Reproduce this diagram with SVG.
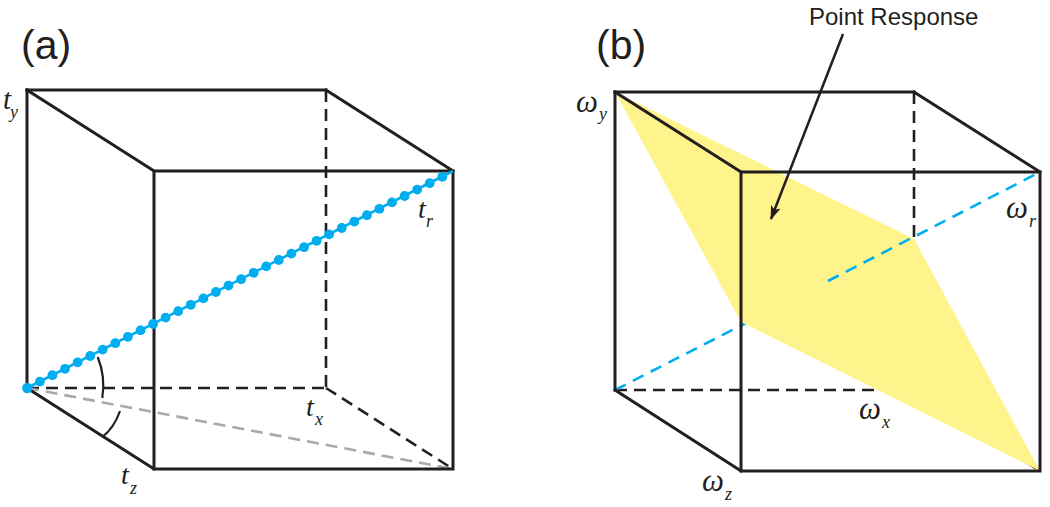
<svg xmlns="http://www.w3.org/2000/svg" width="1050" height="507" viewBox="0 0 1050 507">
<defs>
<style>
.e{stroke:#231F20;stroke-width:3;fill:none;stroke-linecap:square}
.d{stroke:#231F20;stroke-width:2.6;fill:none;stroke-dasharray:12 7}
.g{stroke:#A7A9AC;stroke-width:2.6;fill:none;stroke-dasharray:12 7}
.b{stroke:#00AEEF;stroke-width:2.6;fill:none;stroke-dasharray:12 8}
.arc{stroke:#231F20;stroke-width:2.2;fill:none}
.lbl{font-family:"Liberation Sans",Arial,sans-serif;fill:#231F20}
.m{font-family:"Liberation Serif","Times New Roman",serif;font-style:italic;fill:#231F20}
</style>
<marker id="ah" viewBox="0 0 14 10" refX="13" refY="5" markerWidth="14" markerHeight="10" markerUnits="userSpaceOnUse" orient="auto">
<path d="M0,0 L14,5 L0,10 L3,5 Z" fill="#231F20"/>
</marker>
</defs>
<rect width="1050" height="507" fill="#ffffff"/>

<g id="panel-a">
<text class="lbl" x="21" y="59" font-size="41">(a)</text>
<g id="cube-a">
<line class="d" x1="326" y1="90" x2="326" y2="388"/>
<line class="d" x1="27" y1="388" x2="326" y2="388"/>
<line class="d" x1="326" y1="388" x2="453" y2="469"/>
<line class="g" x1="27" y1="388" x2="453" y2="469"/>
<line class="e" x1="27" y1="90" x2="326" y2="90"/>
<line class="e" x1="27" y1="90" x2="27" y2="388"/>
<line class="e" x1="27" y1="90" x2="154" y2="171"/>
<line class="e" x1="326" y1="90" x2="453" y2="171"/>
<line class="e" x1="27" y1="388" x2="154" y2="469"/>
<rect class="e" x="154" y="171" width="299" height="298"/>
</g>
<g id="angles-a">
<path class="arc" d="M97.7 357 A76.5 76.5 0 0 1 102.3 398"/>
<path class="arc" d="M120 411 Q114 428 102.3 437"/>
</g>
<g id="tr-line" fill="#00AEEF">
<line x1="27" y1="388" x2="453" y2="171" stroke="#00AEEF" stroke-width="2.6"/>
<circle cx="27.3" cy="388" r="5.2"/>
<circle cx="39.9" cy="381.6" r="4.9"/>
<circle cx="52.4" cy="375.2" r="4.9"/>
<circle cx="65.0" cy="368.8" r="4.9"/>
<circle cx="77.6" cy="362.4" r="4.9"/>
<circle cx="90.2" cy="356.0" r="4.9"/>
<circle cx="102.7" cy="349.6" r="4.9"/>
<circle cx="115.3" cy="343.2" r="4.9"/>
<circle cx="127.9" cy="336.8" r="4.9"/>
<circle cx="140.5" cy="330.4" r="4.9"/>
<circle cx="153.1" cy="324.0" r="4.9"/>
<circle cx="165.6" cy="317.6" r="4.9"/>
<circle cx="178.2" cy="311.2" r="4.9"/>
<circle cx="190.8" cy="304.8" r="4.9"/>
<circle cx="203.4" cy="298.4" r="4.9"/>
<circle cx="215.9" cy="292.0" r="4.9"/>
<circle cx="228.5" cy="285.6" r="4.9"/>
<circle cx="241.1" cy="279.2" r="4.9"/>
<circle cx="253.7" cy="272.8" r="4.9"/>
<circle cx="266.2" cy="266.4" r="4.9"/>
<circle cx="278.8" cy="260.0" r="4.9"/>
<circle cx="291.4" cy="253.6" r="4.9"/>
<circle cx="304.0" cy="247.2" r="4.9"/>
<circle cx="316.6" cy="240.8" r="4.9"/>
<circle cx="329.1" cy="234.4" r="4.9"/>
<circle cx="341.7" cy="228.0" r="4.9"/>
<circle cx="354.3" cy="221.6" r="4.9"/>
<circle cx="366.9" cy="215.2" r="4.9"/>
<circle cx="379.4" cy="208.8" r="4.9"/>
<circle cx="392.0" cy="202.4" r="4.9"/>
<circle cx="404.6" cy="196.0" r="4.9"/>
<circle cx="417.2" cy="189.6" r="4.9"/>
<circle cx="429.7" cy="183.2" r="4.9"/>
<circle cx="442.3" cy="176.8" r="4.9"/>
</g>
<g id="labels-a">
<text class="m" x="3" y="109" font-size="29">t</text><text class="m" x="10" y="118" font-size="18">y</text>
<text class="m" x="418" y="218" font-size="28">t</text><text class="m" x="426" y="227" font-size="18">r</text>
<text class="m" x="306" y="416" font-size="28">t</text><text class="m" x="315" y="425" font-size="18">x</text>
<text class="m" x="121" y="484" font-size="28">t</text><text class="m" x="130" y="494" font-size="18">z</text>
</g>
</g>

<g id="panel-b">
<text class="lbl" x="596" y="59" font-size="41">(b)</text>
<g id="cube-b">
<line class="d" x1="914" y1="92" x2="914" y2="390"/>
<line class="d" x1="615" y1="390" x2="914" y2="390"/>
<line class="d" x1="914" y1="390" x2="1040" y2="471"/>
<line class="b" x1="615" y1="390" x2="828" y2="281"/>
<polygon id="point-response-plane" points="615,92 914,239 1040,471 741,322" fill="#FFF48C"/>
<line class="b" x1="828" y1="281" x2="1040" y2="172"/>
<line class="e" x1="615" y1="92" x2="914" y2="92"/>
<line class="e" x1="615" y1="92" x2="615" y2="390"/>
<line class="e" x1="615" y1="92" x2="741" y2="172"/>
<line class="e" x1="914" y1="92" x2="1040" y2="172"/>
<line class="e" x1="615" y1="390" x2="741" y2="471"/>
<rect class="e" x="741" y="172" width="299" height="299"/>
</g>
<g id="labels-b">
<text class="m" x="576" y="112" font-size="31">ω</text><text class="m" x="599" y="120" font-size="18">y</text>
<text class="m" x="1006" y="218" font-size="31">ω</text><text class="m" x="1029" y="227" font-size="18">r</text>
<text class="m" x="859" y="419" font-size="31">ω</text><text class="m" x="882" y="428" font-size="18">x</text>
<text class="m" x="702" y="491" font-size="31">ω</text><text class="m" x="725" y="500" font-size="18">z</text>
</g>
<g id="callout">
<text class="lbl" x="809" y="25" font-size="24">Point Response</text>
<line x1="843" y1="34" x2="771" y2="219" stroke="#231F20" stroke-width="2.5" marker-end="url(#ah)"/>
</g>
</g>
</svg>
